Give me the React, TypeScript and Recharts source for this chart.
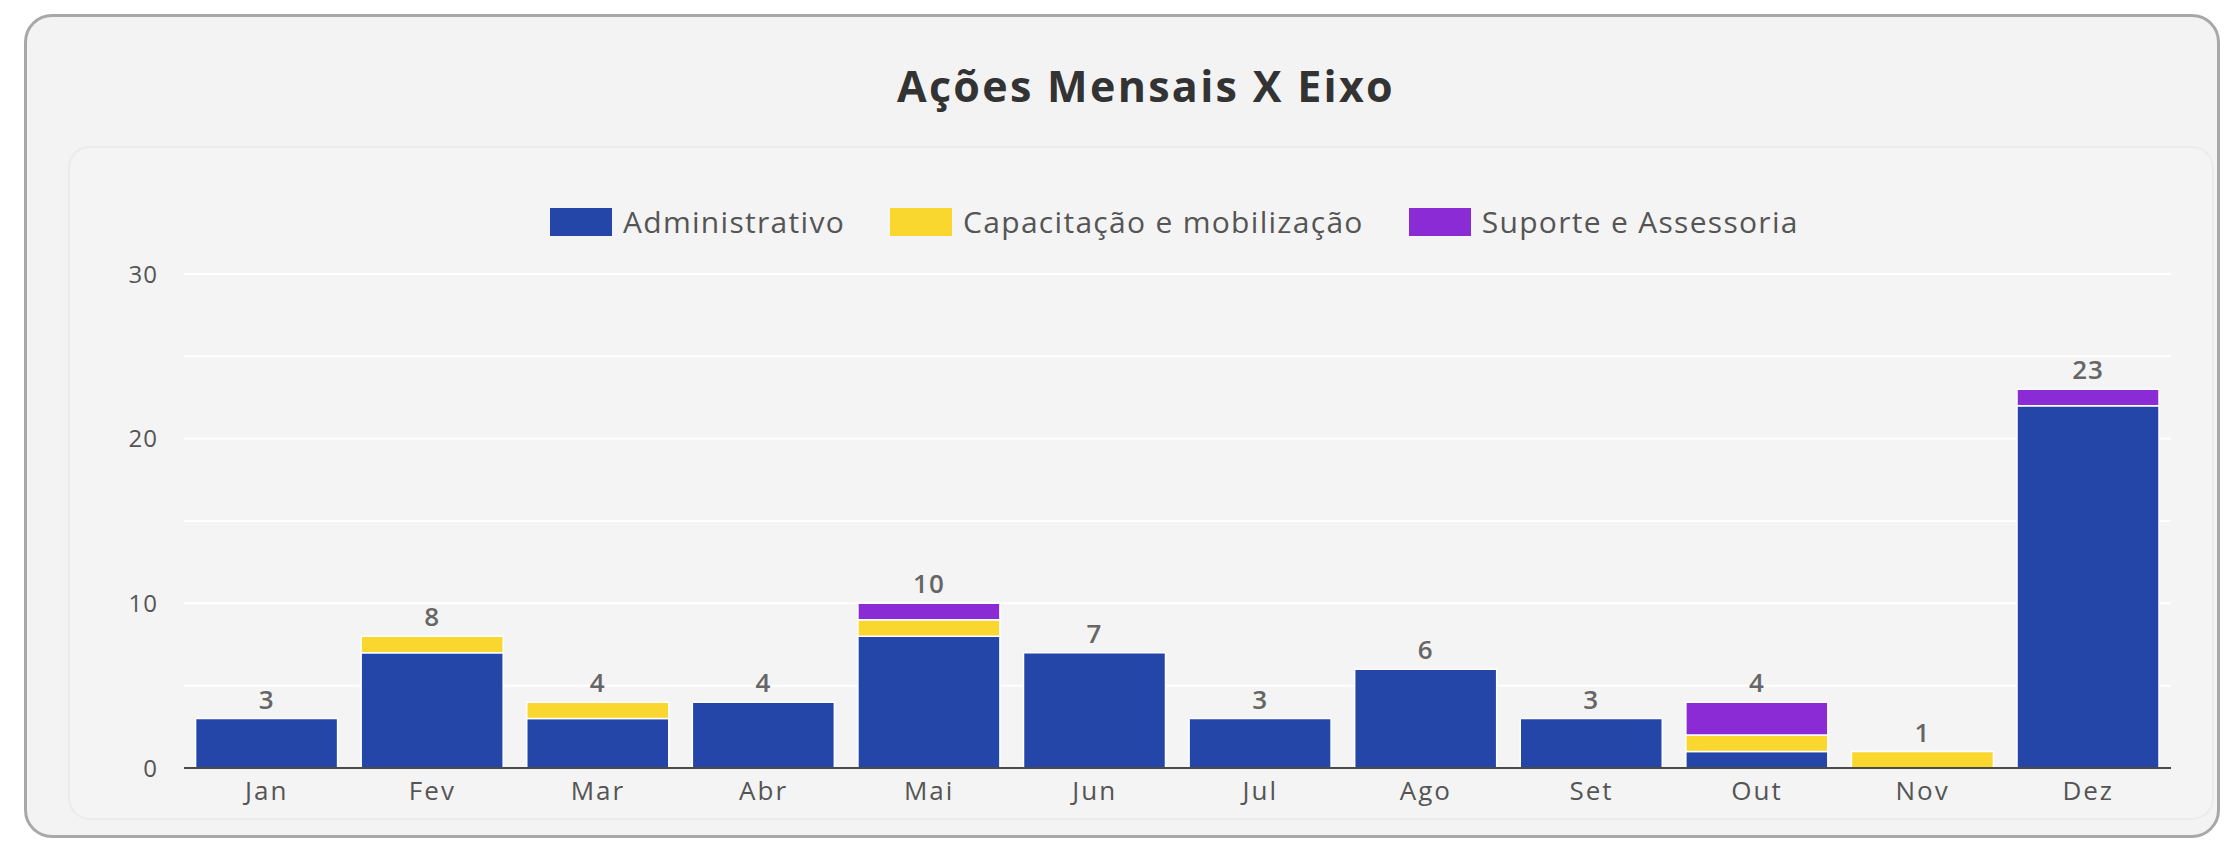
import React from 'react'
import { BarChart, Bar, XAxis, YAxis, CartesianGrid, Legend, LabelList } from 'recharts'

const months = ['Jan', 'Fev', 'Mar', 'Abr', 'Mai', 'Jun', 'Jul', 'Ago', 'Set', 'Out', 'Nov', 'Dez']
const administrativo = [3, 7, 3, 4, 8, 7, 3, 6, 3, 1, 0, 22]
const capacitacao = [0, 1, 1, 0, 1, 0, 0, 0, 0, 1, 1, 0]
const suporte = [0, 0, 0, 0, 1, 0, 0, 0, 0, 2, 0, 1]
const yTicks = [0, 5, 10, 15, 20, 25, 30]

const FONT = "'Open Sans', sans-serif"

const data = months.map((m, i) => {
  const adm = administrativo[i]
  const cap = capacitacao[i]
  const sup = suporte[i]
  return {
    month: m,
    adm,
    cap,
    sup,
    total: adm + cap + sup,
    // series that sits on top of the stack gets the total label
    top: sup > 0 ? 'sup' : cap > 0 ? 'cap' : 'adm',
  }
})

const totalOf = (key: string) => (d: any) => (d.top === key ? d.total : '')

function renderTotal(props: any) {
  const { x, y, width, value } = props
  if (value === '' || value == null) return null
  return (
    <text
      x={Number(x) + Number(width) / 2}
      y={Number(y) - 10}
      textAnchor="middle"
      fontSize={26}
      fontWeight={600}
      fill="#666"
      fontFamily={FONT}
      letterSpacing={1}
    >
      {value}
    </text>
  )
}

function renderLegend(props: any) {
  const { payload } = props
  return (
    <div style={{ display: 'flex', alignItems: 'center', gap: 45, fontFamily: FONT }}>
      {payload.map((p: any) => (
        <div key={p.value} style={{ display: 'flex', alignItems: 'center', gap: 11 }}>
          <div style={{ width: 62, height: 28, background: p.color }} />
          <span style={{ fontSize: 30, letterSpacing: 1.3, color: '#555', whiteSpace: 'nowrap' }}>{p.value}</span>
        </div>
      ))}
    </div>
  )
}

export default function App() {
  return (
    <div style={{ position: 'absolute', left: 0, top: 0, width: 2225, height: 862, background: '#fff', overflow: 'hidden', fontFamily: FONT }}>
      {/* outer card */}
      <div
        style={{
          position: 'absolute',
          left: 24,
          top: 14,
          width: 2196,
          height: 824,
          boxSizing: 'border-box',
          background: '#f3f3f3',
          border: '3px solid #a8a8a8',
          borderRadius: 28,
        }}
      />
      {/* inner card */}
      <div
        style={{
          position: 'absolute',
          left: 68,
          top: 146,
          width: 2146,
          height: 674,
          boxSizing: 'border-box',
          background: '#f4f4f4',
          border: '2px solid #ebebeb',
          borderRadius: 22,
        }}
      />
      <div
        style={{
          position: 'absolute',
          left: 0,
          width: 2292,
          top: 56,
          textAlign: 'center',
          fontSize: 43,
          letterSpacing: 2.3,
          fontWeight: 700,
          color: '#333',
        }}
      >
        Ações Mensais X Eixo
      </div>
      <div style={{ position: 'absolute', left: 0, top: 0 }}>
        <BarChart
          width={2225}
          height={862}
          data={data}
          barCategoryGap="7%"
          margin={{ top: 274, right: 54, bottom: 34, left: 124 }}
        >
          <CartesianGrid vertical={false} stroke="#ffffff" strokeWidth={2} />
          <XAxis
            dataKey="month"
            height={60}
            tickLine={false}
            tickSize={0}
            tickMargin={14}
            axisLine={{ stroke: '#4a4a4a', strokeWidth: 2 }}
            tick={{ fontSize: 26, fill: '#555', fontFamily: FONT, letterSpacing: 2 }}
          />
          <YAxis
            width={60}
            domain={[0, 30]}
            ticks={yTicks}
            interval={0}
            axisLine={false}
            tickLine={false}
            tickSize={0}
            tickMargin={26}
            tickFormatter={(v: number) => (v % 10 === 0 ? String(v) : '')}
            tick={{ fontSize: 24, fill: '#555', fontFamily: FONT, letterSpacing: 1 }}
          />
          <Legend
            layout="horizontal"
            verticalAlign="middle"
            align="center"
            content={renderLegend}
            wrapperStyle={{ top: 201, left: 550, width: 'auto' }}
          />
          <Bar dataKey="adm" name="Administrativo" stackId="a" fill="#2346a8" stroke="#ffffff" strokeWidth={1.5} isAnimationActive={false}>
            <LabelList dataKey={totalOf('adm')} content={renderTotal} />
          </Bar>
          <Bar dataKey="cap" name="Capacitação e mobilização" stackId="a" fill="#fad72f" stroke="#ffffff" strokeWidth={1.5} isAnimationActive={false}>
            <LabelList dataKey={totalOf('cap')} content={renderTotal} />
          </Bar>
          <Bar dataKey="sup" name="Suporte e Assessoria" stackId="a" fill="#8a2bd6" stroke="#ffffff" strokeWidth={1.5} isAnimationActive={false}>
            <LabelList dataKey={totalOf('sup')} content={renderTotal} />
          </Bar>
        </BarChart>
      </div>
    </div>
  )
}
